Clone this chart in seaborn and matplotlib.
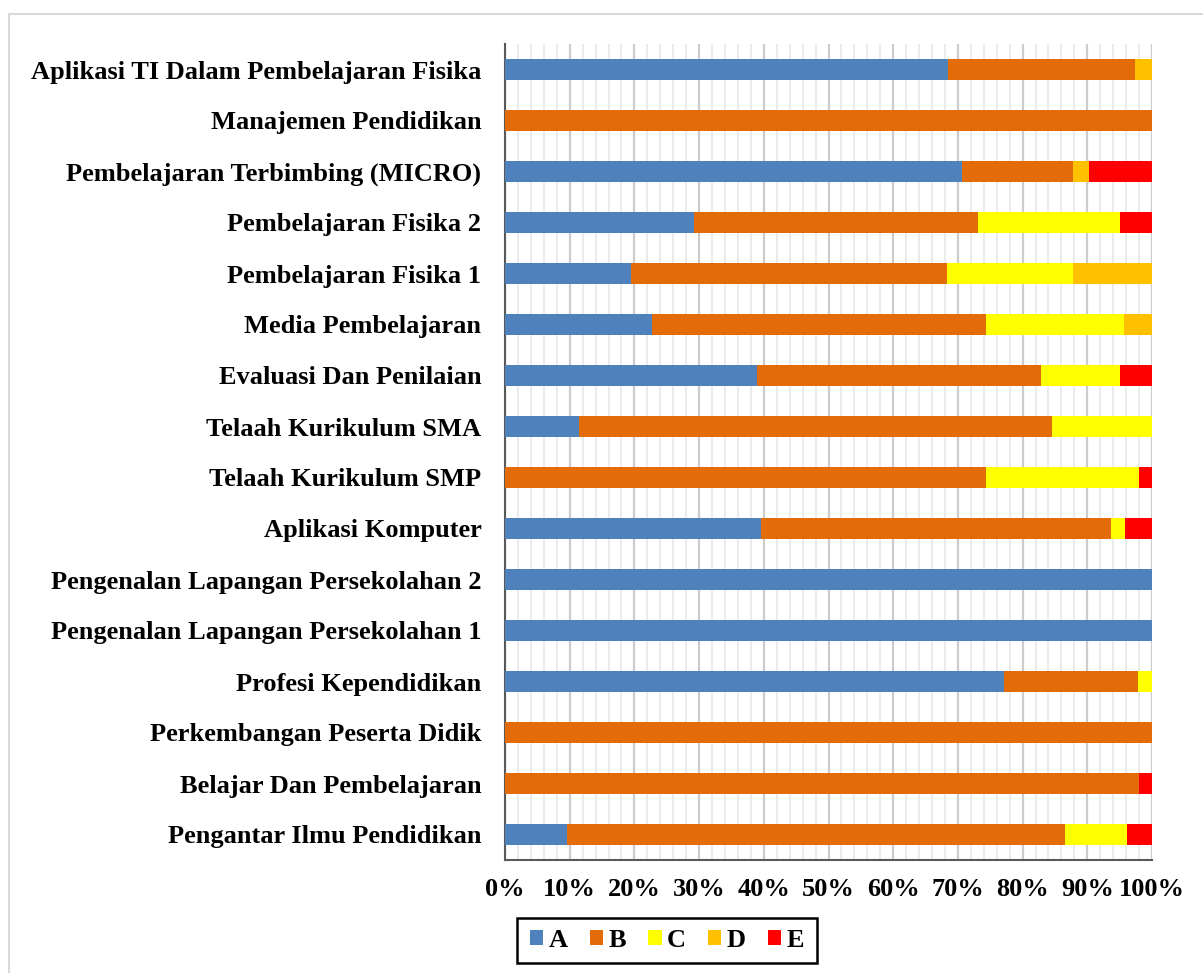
import numpy as np
import pandas as pd
import matplotlib
matplotlib.use("Agg")
import matplotlib.pyplot as plt
from matplotlib.patches import Rectangle, Patch
from matplotlib.ticker import MultipleLocator
import seaborn as sns

categories = [
    "Aplikasi TI Dalam Pembelajaran Fisika",
    "Manajemen Pendidikan",
    "Pembelajaran Terbimbing (MICRO)",
    "Pembelajaran Fisika 2",
    "Pembelajaran Fisika 1",
    "Media Pembelajaran",
    "Evaluasi Dan Penilaian",
    "Telaah Kurikulum SMA",
    "Telaah Kurikulum SMP",
    "Aplikasi Komputer",
    "Pengenalan Lapangan Persekolahan 2",
    "Pengenalan Lapangan Persekolahan 1",
    "Profesi Kependidikan",
    "Perkembangan Peserta Didik",
    "Belajar Dan Pembelajaran",
    "Pengantar Ilmu Pendidikan",
]
grade_A = [68.4, 0, 70.7, 29.2, 19.5, 22.7, 39.0, 11.4, 0, 39.5, 100, 100, 77.1, 0, 0, 9.6]
grade_B = [28.9, 100, 17.1, 43.9, 48.8, 51.6, 43.9, 73.1, 74.4, 54.2, 0, 0, 20.8, 100, 98.0, 76.9]
grade_C = [0, 0, 0, 22.0, 19.5, 21.3, 12.2, 15.5, 23.6, 2.1, 0, 0, 2.1, 0, 0, 9.6]
grade_D = [2.7, 0, 2.4, 0, 12.2, 4.4, 0, 0, 0, 0, 0, 0, 0, 0, 0, 0]
grade_E = [0, 0, 9.8, 4.9, 0, 0, 4.9, 0, 2.0, 4.2, 0, 0, 0, 0, 2.0, 3.9]
series_names = ["A", "B", "C", "D", "E"]
xtick_values = [0, 10, 20, 30, 40, 50, 60, 70, 80, 90, 100]
xtick_labels = ["0%", "10%", "20%", "30%", "40%", "50%", "60%", "70%", "80%", "90%", "100%"]

colors = {"A": "#4F81BD", "B": "#E36C09", "C": "#FFFF00", "D": "#FFC000", "E": "#FF0000"}

df = pd.DataFrame({"category": categories, "A": grade_A, "B": grade_B,
                   "C": grade_C, "D": grade_D, "E": grade_E})
cum = df[series_names].cumsum(axis=1)

sns.set_style("white")
FONT = ["Liberation Serif", "DejaVu Serif"]
plt.rcParams["font.family"] = FONT
plt.rcParams["font.weight"] = "bold"
plt.rcParams["text.color"] = "black"
plt.rcParams["xtick.color"] = "black"
plt.rcParams["ytick.color"] = "black"

fig = plt.figure(figsize=(12.03, 9.73), dpi=100)
ax = fig.add_axes([505 / 1203, 1 - 860 / 973, (1152 - 505) / 1203, (860 - 44) / 973])

# stacked bars: draw cumulative totals from last series to first
for name in reversed(series_names):
    sns.barplot(x=cum[name], y=df["category"], orient="h", color=colors[name],
                saturation=1, width=0.4, linewidth=0, ax=ax, zorder=3)

ax.set_xlim(0, 100)
ax.set_xticks(xtick_values)
ax.set_xticklabels(xtick_labels)
ax.xaxis.set_minor_locator(MultipleLocator(2))
ax.set_axisbelow(True)
ax.grid(which="major", axis="x", color="#CCCCCC", linewidth=1.6, zorder=0)
ax.grid(which="minor", axis="x", color="#E8E8E8", linewidth=1.2, zorder=0)
ax.grid(which="major", axis="y", visible=False)
ax.set_xlabel("")
ax.set_ylabel("")

for s in ["top", "right"]:
    ax.spines[s].set_visible(False)
for s in ["left", "bottom"]:
    ax.spines[s].set_color("#595959")
    ax.spines[s].set_linewidth(1.5)

ax.tick_params(axis="y", length=0, pad=17, labelsize=19, labelcolor="black")
ax.tick_params(axis="x", which="both", length=0, pad=13, labelsize=19, labelcolor="black")
for lab in ax.get_yticklabels() + ax.get_xticklabels():
    lab.set_fontweight("bold")
    lab.set_family(FONT)
    lab.set_color("black")

# outer chart border
fig.patches.append(Rectangle((9 / 1203, -0.02), 1.1, 1 - 14 / 973 + 0.02,
                             transform=fig.transFigure, fill=False,
                             edgecolor="#D9D9D9", linewidth=1.5))

# legend box
lx, ly, lw, lh = 517 / 1203, 10 / 973, 300 / 1203, 45 / 973
fig.patches.append(Rectangle((lx, ly), lw, lh, transform=fig.transFigure,
                             fill=False, edgecolor="black", linewidth=1.8))
handles = [Patch(facecolor=colors[n], edgecolor="none") for n in series_names]
leg = fig.legend(handles, series_names, loc="center", bbox_to_anchor=(lx + lw / 2, ly + lh / 2),
                 ncol=5, frameon=False, prop={"family": FONT, "weight": "bold", "size": 19},
                 handlelength=0.5, handleheight=0.5, handletextpad=0.2, columnspacing=0.85,
                 borderpad=0.0)
for t in leg.get_texts():
    t.set_color("black")

fig.savefig("out.png", dpi=100, facecolor="white")
